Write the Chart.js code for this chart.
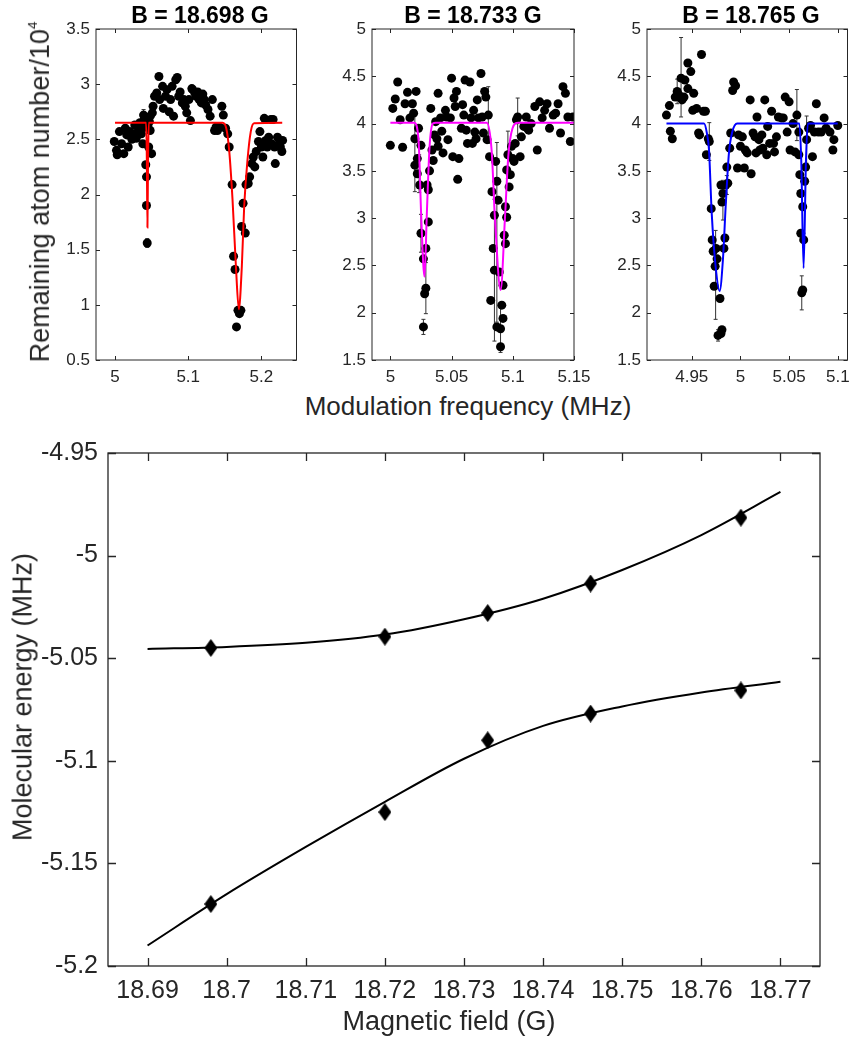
<!DOCTYPE html>
<html lang="en">
<head>
<meta charset="UTF-8">
<title>Molecular energy vs magnetic field</title>
<script src="https://cdn.jsdelivr.net/npm/chart.js"></script>
<style>
  body { margin: 0; background: #fff; font-family: "Liberation Sans", Arial, Helvetica, sans-serif; color: #262626; }
  #page { position: relative; width: 852px; height: 1043px; overflow: hidden; }
  .box { position: absolute; }
  .lbl { position: absolute; white-space: nowrap; line-height: 1; transform: translate(-50%, -50%); }
  .rot { transform: translate(-50%, -50%) rotate(-90deg); }
  .ttl { font-weight: bold; color: #000; font-size: 23px; }
  sup { font-size: 0.5em; vertical-align: 0.9em; }
</style>
</head>
<body>
<div id="page">
  <div class="box" id="p1"><canvas></canvas></div>
  <div class="box" id="p2"><canvas></canvas></div>
  <div class="box" id="p3"><canvas></canvas></div>
  <div class="box" id="p4"><canvas></canvas></div>

  <div class="lbl ttl" style="left:200px; top:15px;">B = 18.698 G</div>
  <div class="lbl ttl" style="left:473px; top:15px;">B = 18.733 G</div>
  <div class="lbl ttl" style="left:751px; top:15px;">B = 18.765 G</div>
  <div class="lbl rot" style="left:40px; top:192px; font-size:27px;">Remaining atom number/10<sup>4</sup></div>
  <div class="lbl" style="left:468px; top:406px; font-size:26px;">Modulation frequency (MHz)</div>
  <div class="lbl rot" style="left:23px; top:697px; font-size:27px;">Molecular energy (MHz)</div>
  <div class="lbl" style="left:449px; top:1021px; font-size:27px;">Magnetic field (G)</div>
</div>

<script>
// ---- data ----
// top panels: [modulation frequency (MHz), remaining atoms / 1e4]
const run1 = [
  [4.999,2.48],[5.002,2.40],[5.003,2.36],[5.006,2.57],[5.009,2.46],[5.012,2.37],[5.014,2.60],[5.016,2.54],[5.018,2.43],[5.020,2.57],
  [5.023,2.50],[5.025,2.55],[5.027,2.63],[5.029,2.51],[5.032,2.58],[5.034,2.65],[5.036,2.55],[5.038,2.46],[5.039,2.72],[5.041,2.61],
  [5.040,2.68],[5.042,2.27],[5.043,2.16],[5.043,1.90],[5.044,1.56],[5.045,2.62],[5.046,2.43],[5.047,2.66],[5.048,2.71],[5.048,2.58],
  [5.050,2.37],[5.051,2.74],[5.052,2.80],[5.054,2.89],[5.057,2.92],[5.060,3.07],[5.061,2.86],[5.065,2.98],[5.066,2.78],[5.069,2.89],
  [5.071,2.95],[5.074,2.75],[5.076,2.86],[5.078,2.98],[5.080,2.71],[5.083,3.04],[5.085,3.06],[5.087,2.89],[5.089,2.93],[5.092,2.83],
  [5.094,2.86],[5.096,2.80],[5.098,2.74],[5.101,2.86],[5.103,2.67],[5.105,2.96],[5.106,2.95],[5.109,2.92],[5.111,2.89],[5.113,2.93],
  [5.115,2.86],[5.118,2.83],[5.120,2.91],[5.122,2.86],[5.124,2.81],[5.127,2.77],[5.130,2.71],[5.133,2.86],[5.136,2.58],[5.138,2.61],
  [5.140,2.58],[5.143,2.61],[5.146,2.80],[5.148,2.72],[5.151,2.60],[5.154,2.55],[5.156,2.43],[5.160,2.09],[5.162,1.44],[5.164,1.32],
  [5.166,0.80],[5.168,0.95],[5.170,0.92],[5.172,0.95],[5.173,1.71],[5.175,1.92],[5.178,1.65],[5.179,2.09],[5.182,2.10],[5.184,2.16],
  [5.187,2.28],[5.189,2.34],[5.191,2.25],[5.193,2.39],[5.196,2.48],[5.198,2.57],[5.200,2.43],[5.202,2.34],[5.204,2.69],[5.206,2.49],
  [5.208,2.43],[5.210,2.52],[5.213,2.68],[5.214,2.46],[5.216,2.68],[5.218,2.43],[5.219,2.28],[5.222,2.52],[5.224,2.46],[5.226,2.43],
  [5.228,2.39],[5.229,2.49]
];
const run2 = [
  [5.000,3.77],[5.002,4.16],[5.004,4.26],[5.006,4.44],[5.008,4.04],[5.010,3.75],[5.012,4.21],[5.014,4.33],[5.016,4.06],[5.018,4.21],
  [5.019,4.11],[5.020,3.56],[5.021,4.34],[5.020,3.84],[5.022,3.63],[5.023,3.95],[5.022,3.47],[5.024,3.35],[5.025,3.77],[5.025,2.84],
  [5.027,2.57],[5.027,1.85],[5.028,2.20],[5.029,2.68],[5.029,2.26],[5.030,3.35],[5.031,2.96],[5.031,3.30],[5.032,3.50],[5.033,4.16],
  [5.034,3.72],[5.035,3.61],[5.036,3.88],[5.037,4.02],[5.038,3.84],[5.039,4.32],[5.039,3.76],[5.041,4.06],[5.042,3.92],[5.043,3.69],
  [5.045,4.14],[5.046,4.07],[5.047,3.83],[5.049,4.06],[5.050,4.48],[5.051,3.65],[5.052,4.27],[5.053,4.18],[5.054,4.34],[5.055,3.41],
  [5.056,3.63],[5.058,3.95],[5.059,4.20],[5.060,4.09],[5.061,4.46],[5.062,3.93],[5.063,3.79],[5.065,4.44],[5.066,4.06],[5.067,3.79],
  [5.068,4.14],[5.069,3.91],[5.070,3.84],[5.071,4.25],[5.072,4.06],[5.074,4.53],[5.075,4.07],[5.076,3.90],[5.077,4.34],[5.078,4.28],
  [5.079,3.83],[5.080,4.09],[5.081,3.65],[5.082,2.13],[5.083,3.28],[5.084,2.68],[5.085,3.03],[5.085,2.45],[5.086,3.60],[5.087,3.39],
  [5.087,1.85],[5.088,3.19],[5.089,2.43],[5.090,1.83],[5.090,1.64],[5.091,2.08],[5.092,1.94],[5.092,2.29],[5.093,2.82],[5.094,3.12],
  [5.094,2.73],[5.095,3.01],[5.095,3.51],[5.096,3.67],[5.097,3.33],[5.098,3.46],[5.099,3.76],[5.100,3.63],[5.101,3.60],[5.102,3.79],
  [5.103,4.04],[5.104,4.07],[5.106,3.65],[5.107,3.86],[5.109,3.97],[5.111,4.07],[5.112,3.95],[5.113,3.93],[5.115,4.00],[5.118,4.18],
  [5.120,3.72],[5.122,4.23],[5.124,4.06],[5.126,4.14],[5.128,4.21],[5.130,3.95],[5.133,4.09],[5.135,4.11],[5.137,4.21],[5.139,3.90],
  [5.141,4.39],[5.143,4.32],[5.145,4.07],[5.147,3.81],[5.149,4.07]
];
const run3 = [
  [4.924,4.09],[4.927,4.19],[4.928,3.92],[4.930,3.84],[4.933,4.28],[4.935,4.34],[4.937,4.30],[4.939,4.48],[4.940,4.25],[4.942,4.28],
  [4.943,4.46],[4.946,4.37],[4.946,4.64],[4.949,4.55],[4.951,4.14],[4.952,4.32],[4.955,4.16],[4.957,3.90],[4.958,3.88],[4.960,4.73],
  [4.962,4.13],[4.964,4.13],[4.965,3.67],[4.967,3.84],[4.968,3.81],[4.970,3.10],[4.971,2.77],[4.972,2.65],[4.973,2.28],[4.974,2.49],
  [4.975,2.68],[4.976,2.57],[4.977,1.76],[4.979,2.15],[4.980,1.78],[4.981,1.82],[4.980,3.35],[4.981,3.17],[4.982,3.26],[4.983,2.68],
  [4.984,2.79],[4.985,3.35],[4.986,3.54],[4.987,3.37],[4.989,3.74],[4.990,3.90],[4.992,4.35],[4.993,4.44],[4.995,4.40],[4.997,3.53],
  [4.998,3.88],[5.000,3.76],[5.002,3.86],[5.004,3.53],[5.005,3.72],[5.007,3.69],[5.010,4.25],[5.011,3.47],[5.013,3.90],[5.015,3.86],
  [5.016,3.69],[5.017,4.07],[5.019,3.83],[5.020,3.72],[5.022,3.88],[5.023,3.74],[5.025,4.25],[5.027,3.67],[5.028,3.97],[5.030,3.79],
  [5.032,4.13],[5.034,3.79],[5.035,3.70],[5.037,3.86],[5.039,4.07],[5.042,4.06],[5.044,4.06],[5.046,4.28],[5.048,3.91],[5.050,4.23],
  [5.051,3.72],[5.054,4.00],[5.056,3.70],[5.058,4.09],[5.060,3.91],[5.060,3.67],[5.061,3.46],[5.062,3.26],[5.062,2.84],[5.063,2.21],
  [5.064,2.24],[5.064,3.12],[5.065,2.77],[5.066,3.39],[5.067,3.54],[5.068,3.83],[5.070,3.95],[5.072,3.98],[5.074,3.65],[5.076,3.91],
  [5.078,4.21],[5.080,3.91],[5.083,3.91],[5.086,4.06],[5.088,3.95],[5.092,3.91],[5.095,3.72],[5.096,3.83],[5.100,3.98]
];

// error bars: [frequency, centre, half-length]
const bars1 = [[5.044,1.56,0.04],[5.039,2.72,0.05],[5.051,2.74,0.04]];
const bars2 = [[5.020,3.70,0.42],[5.0235,3.47,0.2],[5.025,2.84,0.2],[5.027,1.85,0.08],[5.029,2.26,0.27],[5.080,4.09,0.3],
               [5.085,2.45,0.75],[5.087,2.85,0.95],[5.090,1.83,0.25],[5.096,3.67,0.25],[5.104,4.07,0.2]];
const bars3 = [[4.939,4.49,0.42],[4.935,4.34,0.13],[4.968,3.81,0.2],[4.9745,2.40,0.47],[4.977,1.76,0.06],[4.982,3.19,0.21],
               [4.986,3.35,0.1],[5.058,4.09,0.27],[5.063,2.21,0.18],[5.068,3.83,0.25]];

// fitted curves
const fit1 = [[5.0,2.65],[5.0425,2.65],[5.0435,2.3],[5.0443,1.70],[5.0451,2.3],[5.0461,2.65],[5.147,2.65],[5.152,2.60],[5.156,2.40],
              [5.1606,1.95],[5.1652,1.35],[5.1692,0.96],[5.1733,1.35],[5.1765,1.89],[5.181,2.31],[5.1855,2.57],[5.19,2.645],[5.2285,2.65]];
const fit2 = [[5.0,4.01],[5.0195,4.01],[5.023,3.83],[5.0252,3.02],[5.0279,2.38],[5.0298,3.05],[5.032,3.75],[5.0347,4.0],[5.037,4.01],
              [5.0787,4.01],[5.0827,3.72],[5.0855,2.98],[5.0901,2.24],[5.0936,3.0],[5.0963,3.65],[5.0998,3.95],[5.1044,4.01],[5.15,4.01]];
const fit3 = [[4.924,4.0],[4.9626,4.0],[4.9655,3.9],[4.9677,3.72],[4.9705,3.05],[4.9745,2.49],[4.9786,2.23],[4.982,2.56],[4.9848,3.12],
              [4.9882,3.69],[4.9916,3.91],[4.9967,4.0],[5.0605,4.0],[5.0625,3.6],[5.0649,2.47],[5.0673,3.6],[5.0693,4.0],[5.1,4.0]];

// bottom panel
const fieldPts  = [18.698, 18.72, 18.733, 18.746, 18.765];
const upperPts  = [-5.045, -5.0395, -5.028, -5.0136, -4.9815];
const lowerPts  = [-5.1698, -5.125, -5.090, -5.077, -5.0657];
const fitField  = [18.69, 18.70, 18.71, 18.72, 18.73, 18.74, 18.75, 18.76, 18.77];
const upperFit  = [-5.0455, -5.0445, -5.0425, -5.0385, -5.031, -5.021, -5.007, -4.990, -4.969];
const lowerFit  = [-5.190, -5.165, -5.142, -5.120, -5.099, -5.083, -5.0735, -5.0667, -5.0615];

// tick labels
const atomTicksA = [0.5, 1, 1.5, 2, 2.5, 3, 3.5];
const atomTicksB = [1.5, 2, 2.5, 3, 3.5, 4, 4.5, 5];
const freqTicks1 = [5, 5.1, 5.2];
const freqTicks2 = [5, 5.05, 5.1, 5.15];
const freqTicks3 = [4.95, 5, 5.05, 5.1];
const fieldTicks = [18.69, 18.70, 18.71, 18.72, 18.73, 18.74, 18.75, 18.76, 18.77];
const energyTicks = [-5.2, -5.15, -5.1, -5.05, -5, -4.95];

// ---- drawing ----
Chart.defaults.font.family = '"Liberation Sans", Arial, Helvetica, sans-serif';
Chart.defaults.color = '#262626';
Chart.defaults.animation = false;

const fmt = v => String(Number(Number(v).toFixed(4)));
const xy = pairs => pairs.map(p => ({x: p[0], y: p[1]}));
const zip = (xs, ys) => xs.map((x, i) => ({x: x, y: ys[i]}));

// MATLAB-like box with inward ticks on all four sides
function framePlugin(width, len) {
  return {
    id: 'frame',
    afterDraw(chart) {
      const {ctx, chartArea: a, scales} = chart;
      ctx.save();
      ctx.strokeStyle = '#262626';
      ctx.lineWidth = width;
      ctx.beginPath();
      scales.x.ticks.forEach(t => {
        const px = Math.round(scales.x.getPixelForValue(t.value)) + 0.5;
        ctx.moveTo(px, a.bottom); ctx.lineTo(px, a.bottom - len);
        ctx.moveTo(px, a.top); ctx.lineTo(px, a.top + len);
      });
      scales.y.ticks.forEach(t => {
        const py = Math.round(scales.y.getPixelForValue(t.value)) + 0.5;
        ctx.moveTo(a.left, py); ctx.lineTo(a.left + len, py);
        ctx.moveTo(a.right, py); ctx.lineTo(a.right - len, py);
      });
      ctx.stroke();
      ctx.strokeRect(a.left, a.top, a.right - a.left, a.bottom - a.top);
      ctx.restore();
    }
  };
}

function errorBarPlugin(bars) {
  return {
    id: 'errorBars',
    beforeDatasetsDraw(chart) {
      const {ctx, scales: {x, y}} = chart;
      ctx.save();
      ctx.strokeStyle = '#333';
      ctx.lineWidth = 1;
      ctx.beginPath();
      bars.forEach(([bx, by, e]) => {
        const px = x.getPixelForValue(bx);
        const top = y.getPixelForValue(by + e), bot = y.getPixelForValue(by - e);
        ctx.moveTo(px, top); ctx.lineTo(px, bot);
        ctx.moveTo(px - 2, top); ctx.lineTo(px + 2, top);
        ctx.moveTo(px - 2, bot); ctx.lineTo(px + 2, bot);
      });
      ctx.stroke();
      ctx.restore();
    }
  };
}

function axis(min, max, ticks, fontSize, padding, fitSize, horizontal) {
  return {
    type: 'linear', min: min, max: max,
    grid: {display: false, drawTicks: false},
    border: {display: false},
    ticks: {font: {size: fontSize}, padding: padding, autoSkip: false, maxRotation: 0, callback: fmt},
    afterBuildTicks: s => { s.ticks = ticks.map(v => ({value: v})); },
    afterFit: s => {
      if (horizontal) { s.height = fitSize; s.paddingLeft = 0; s.paddingRight = 0; }
      else { s.width = fitSize; s.paddingTop = 0; s.paddingBottom = 0; }
    }
  };
}

// place a chart so that its plot area lands on [left, right, top, bottom]
function place(id, area, yw, xh, pt, pr) {
  const el = document.getElementById(id);
  el.style.left = (area[0] - yw) + 'px';
  el.style.top = (area[2] - pt) + 'px';
  el.style.width = (area[1] - area[0] + yw + pr) + 'px';
  el.style.height = (area[3] - area[2] + pt + xh) + 'px';
  return el.querySelector('canvas');
}

const panels = [
  {id: 'p1', run: run1, fit: fit1, bars: bars1, color: '#ff0000', x: [4.974, 5.248], y: [0.5, 3.5],
   xt: freqTicks1, yt: atomTicksA, area: [96, 298, 29, 360], pr: 3},
  {id: 'p2', run: run2, fit: fit2, bars: bars2, color: '#ff00ff', x: [4.985, 5.15], y: [1.5, 5],
   xt: freqTicks2, yt: atomTicksB, area: [372, 574, 29, 360], pr: 22},
  {id: 'p3', run: run3, fit: fit3, bars: bars3, color: '#0000ff', x: [4.904, 5.110], y: [1.5, 5],
   xt: freqTicks3, yt: atomTicksB, area: [647, 849, 29, 360], pr: 3}
];

panels.forEach(p => {
  const canvas = place(p.id, p.area, 50, 30, 14, p.pr);
  new Chart(canvas, {
    type: 'scatter',
    data: {
      datasets: [
        {data: xy(p.fit), showLine: true, borderColor: p.color, borderWidth: 2, pointRadius: 0,
         cubicInterpolationMode: 'monotone'},
        {data: xy(p.run), backgroundColor: '#000', borderWidth: 0, pointRadius: 4.5}
      ]
    },
    options: {
      responsive: true, maintainAspectRatio: false,
      layout: {padding: {top: 14, right: p.pr, left: 0, bottom: 0}},
      plugins: {legend: {display: false}, tooltip: {enabled: false}},
      scales: {
        x: axis(p.x[0], p.x[1], p.xt, 17, 7, 30, true),
        y: axis(p.y[0], p.y[1], p.yt, 17, 6, 50, false)
      }
    },
    plugins: [errorBarPlugin(p.bars), framePlugin(1, 4)]
  });
});

// tall diamond marker
function diamond(w, h) {
  const c = document.createElement('canvas');
  c.width = w; c.height = h;
  const g = c.getContext('2d');
  g.fillStyle = '#000';
  g.beginPath();
  g.moveTo(w / 2, 0); g.lineTo(w, h / 2); g.lineTo(w / 2, h); g.lineTo(0, h / 2);
  g.closePath(); g.fill();
  return c;
}
const mark = diamond(13, 18);

const bottomCanvas = place('p4', [108, 820, 453, 966], 80, 50, 16, 12);
new Chart(bottomCanvas, {
  type: 'scatter',
  data: {
    datasets: [
      {data: zip(fieldPts, upperPts), pointStyle: mark, pointRadius: 9},
      {data: zip(fieldPts, lowerPts), pointStyle: mark, pointRadius: 9},
      {data: zip(fitField, upperFit), showLine: true, borderColor: '#000', borderWidth: 2, pointRadius: 0,
       cubicInterpolationMode: 'monotone'},
      {data: zip(fitField, lowerFit), showLine: true, borderColor: '#000', borderWidth: 2, pointRadius: 0,
       cubicInterpolationMode: 'monotone'}
    ]
  },
  options: {
    responsive: true, maintainAspectRatio: false,
    layout: {padding: {top: 16, right: 12, left: 0, bottom: 0}},
    plugins: {legend: {display: false}, tooltip: {enabled: false}},
    scales: {
      x: axis(18.685, 18.775, fieldTicks, 25, 10, 50, true),
      y: axis(-5.2, -4.95, energyTicks, 25, 10, 80, false)
    }
  },
  plugins: [framePlugin(1.3, 8)]
});
</script>
</body>
</html>
